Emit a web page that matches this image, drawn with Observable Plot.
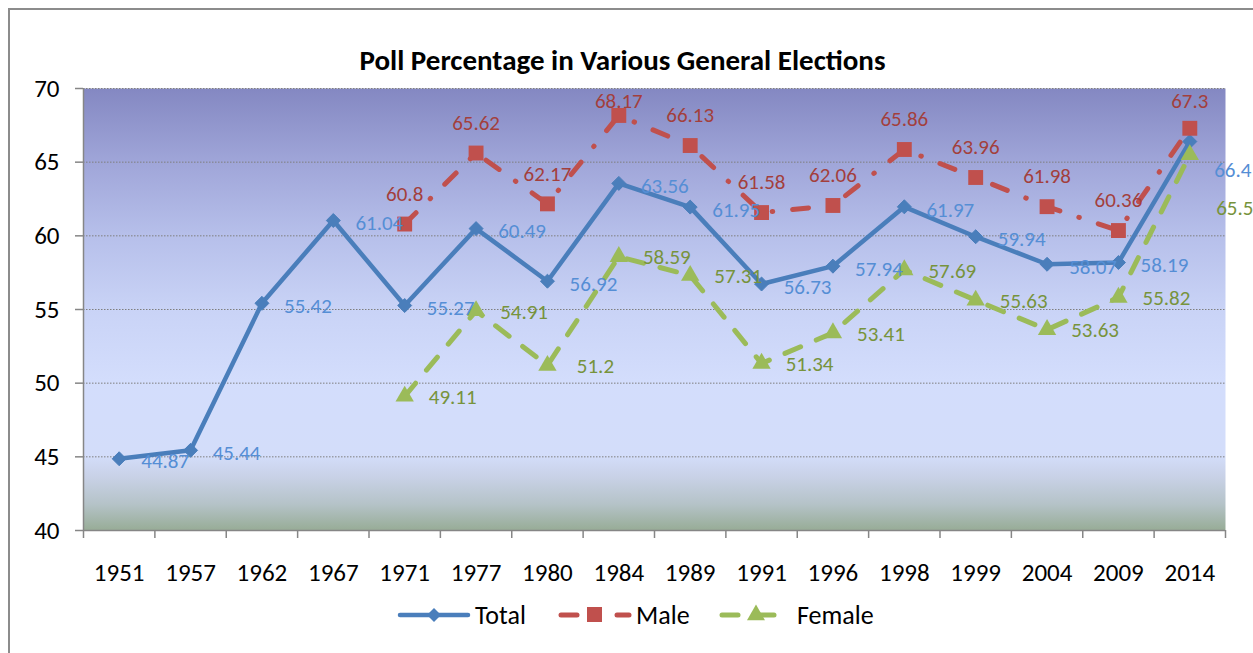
<!DOCTYPE html>
<html>
<head>
<meta charset="utf-8">
<script src="https://cdn.jsdelivr.net/npm/d3@7"></script>
<script src="https://cdn.jsdelivr.net/npm/@observablehq/plot@0.6"></script>
<style>
  html, body { margin: 0; padding: 0; background: #fff; }
  body { width: 1253px; height: 653px; position: relative; overflow: hidden; font-family: Carlito, Calibri, Lato, "Open Sans", sans-serif; }
  #border { position: absolute; left: 8px; top: 8px; width: 1300px; height: 700px; border: 2px solid #8c8c8c; box-sizing: border-box; }
  #chart { position: absolute; left: 0; top: 0; }
  #title { position: absolute; left: 0; width: 1245px; top: 42px; text-align: center; font-weight: bold; font-size: 29px; line-height: 36px; color: #000; }
  #legend { position: absolute; left: 0; top: 595px; }
</style>
</head>
<body>
<div id="border"></div>
<div id="chart"></div>
<div id="title">Poll Percentage in Various General Elections</div>
<div id="legend"></div>
<script>
const years = ["1951","1957","1962","1967","1971","1977","1980","1984","1989","1991","1996","1998","1999","2004","2009","2014"];
const total = [44.87,45.44,55.42,61.04,55.27,60.49,56.92,63.56,61.95,56.73,57.94,61.97,59.94,58.07,58.19,66.4];
const male = [null,null,null,null,60.8,65.62,62.17,68.17,66.13,61.58,62.06,65.86,63.96,61.98,60.36,67.3];
const female = [null,null,null,null,49.11,54.91,51.2,58.59,57.31,51.34,53.41,57.69,55.63,53.63,55.82,65.5];
const yTicks = [40,45,50,55,60,65,70];
const gridTicks = [45,50,55,60,65,70];

const C_TOTAL = "#4a7ebb", C_MALE = "#c0504d", C_FEMALE = "#9bbb59";
const L_TOTAL = "#558ed5", L_MALE = "#a33f3c", L_FEMALE = "#77933c";

const rows = (vals) => years.map((yr, i) => ({i, year: yr, v: vals[i]})).filter(d => d.v != null);
const T = rows(total), M = rows(male), F = rows(female);
const last = years.length - 1;
const xc = d => d.i + 0.5;
const bounds = d3.range(0, years.length + 1);
const centers = years.map((_, i) => i + 0.5);
const FONT = "Carlito, Calibri, Lato, 'Open Sans', sans-serif";

const plot = Plot.plot({
  width: 1253,
  height: 600,
  marginLeft: 83,
  marginRight: 28,
  marginTop: 88,
  marginBottom: 70,
  style: {fontFamily: FONT, background: "transparent", overflow: "visible"},
  x: {type: "linear", domain: [0, years.length], label: null},
  y: {domain: [40, 70], label: null},
  marks: [
    Plot.frame({fill: "url(#bg)", stroke: "none"}),
    Plot.ruleY(gridTicks, {stroke: "#7f7f7f", strokeDasharray: "1.5,1.5", strokeWidth: 1}),
    // axes
    Plot.axisY(yTicks, {anchor: "left", label: null, tickSize: 8, tickPadding: 16, fontSize: 25, stroke: "#868686", fill: "#000", strokeWidth: 1.5}),
    Plot.ruleX([0], {stroke: "#868686", strokeWidth: 1.5}),
    Plot.ruleY([40], {stroke: "#868686", strokeWidth: 1.5}),
    Plot.axisX(bounds, {anchor: "bottom", label: null, tickSize: 8, tickFormat: () => "", stroke: "#868686", strokeWidth: 1.5}),
    Plot.axisX(centers, {anchor: "bottom", label: null, tickSize: 0, tickPadding: 33, fontSize: 25, fill: "#000", tickFormat: d => years[Math.floor(d)]}),
    // lines
    Plot.line(T, {x: xc, y: "v", stroke: C_TOTAL, strokeWidth: 4.5, strokeLinejoin: "round", strokeLinecap: "round"}),
    Plot.line(M, {x: xc, y: "v", stroke: C_MALE, strokeWidth: 5, strokeDasharray: "16,20,0.5,20", strokeLinecap: "round"}),
    Plot.line(F, {x: xc, y: "v", stroke: C_FEMALE, strokeWidth: 5, strokeDasharray: "17,17", strokeLinecap: "round"}),
    // markers
    Plot.dot(T, {x: xc, y: "v", symbol: "diamond2", r: 6.3, fill: C_TOTAL, stroke: C_TOTAL, strokeWidth: 1}),
    Plot.dot(M, {x: xc, y: "v", symbol: "square", r: 8.4, fill: C_MALE, stroke: "none"}),
    Plot.dot(F, {x: xc, y: "v", symbol: "triangle", r: 6.8, fill: C_FEMALE, stroke: "none"}),
    // labels
    Plot.text(T, {filter: d => d.i !== last, x: xc, y: "v", text: d => String(d.v), dx: 46, dy: 3, fill: L_TOTAL, fontSize: 21}),
    Plot.text(T, {filter: d => d.i === last, x: xc, y: "v", text: d => String(d.v), dx: 43, dy: 29, fill: L_TOTAL, fontSize: 21}),
    Plot.text(M, {x: xc, y: d => Math.min(d.v, 67.1), text: d => String(d.v), dy: -30, fill: L_MALE, fontSize: 21}),
    Plot.text(F, {filter: d => d.i !== last, x: xc, y: "v", text: d => String(d.v), dx: 48, dy: 1, fill: L_FEMALE, fontSize: 21}),
    Plot.text(F, {filter: d => d.i === last, x: xc, y: "v", text: d => String(d.v), dx: 45, dy: 53, fill: L_FEMALE, fontSize: 21})
  ]
});

const svg = d3.select(plot);
const defs = svg.insert("defs", ":first-child");
const grad = defs.append("linearGradient").attr("id", "bg").attr("x1", 0).attr("y1", 0).attr("x2", 0).attr("y2", 1);
[[0, "#8488c2"], [0.17, "#a0a6d9"], [0.33, "#b6bfea"], [0.5, "#c9d3f6"], [0.66, "#d3ddfc"],
 [0.83, "#d3ddfa"], [0.88, "#c8d1e6"], [0.94, "#b5c3c8"], [1, "#97ac96"]]
  .forEach(([o, c]) => grad.append("stop").attr("offset", o).attr("stop-color", c));
document.getElementById("chart").appendChild(plot);

// Legend
const lg = d3.select("#legend").append("svg").attr("width", 1253).attr("height", 40)
  .style("font-family", FONT);
const ly = 20;
const g = lg.append("g");
g.append("line").attr("x1", 400).attr("x2", 468).attr("y1", ly).attr("y2", ly).attr("stroke", C_TOTAL).attr("stroke-width", 4.5).attr("stroke-linecap", "round");
g.append("path").attr("d", d3.symbol(d3.symbolDiamond2, 125)()).attr("transform", `translate(434,${ly})`).attr("fill", C_TOTAL);
g.append("text").attr("x", 475).attr("y", ly).attr("dy", "0.35em").attr("font-size", 26).text("Total");
g.append("line").attr("x1", 561).attr("x2", 577).attr("y1", ly).attr("y2", ly).attr("stroke", C_MALE).attr("stroke-width", 5).attr("stroke-linecap", "round");
g.append("rect").attr("x", 587).attr("y", ly - 8).attr("width", 15).attr("height", 15).attr("fill", C_MALE);
g.append("line").attr("x1", 617).attr("x2", 629).attr("y1", ly).attr("y2", ly).attr("stroke", C_MALE).attr("stroke-width", 5).attr("stroke-linecap", "round");
g.append("text").attr("x", 636).attr("y", ly).attr("dy", "0.35em").attr("font-size", 26).text("Male");
g.append("line").attr("x1", 722).attr("x2", 738).attr("y1", ly).attr("y2", ly).attr("stroke", C_FEMALE).attr("stroke-width", 5).attr("stroke-linecap", "round");
g.append("path").attr("d", d3.symbol(d3.symbolTriangle, 140)()).attr("transform", `translate(756,${ly})`).attr("fill", C_FEMALE);
g.append("line").attr("x1", 760).attr("x2", 774).attr("y1", ly).attr("y2", ly).attr("stroke", C_FEMALE).attr("stroke-width", 5).attr("stroke-linecap", "round");
g.append("text").attr("x", 797).attr("y", ly).attr("dy", "0.35em").attr("font-size", 26).text("Female");
</script>
</body>
</html>
